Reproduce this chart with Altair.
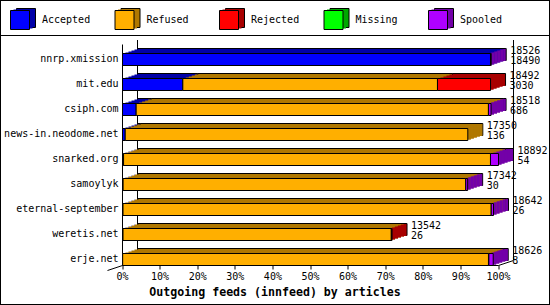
import altair as alt
import pandas as pd

feeds = ["nnrp.xmission", "mit.edu", "csiph.com", "news-in.neodome.net", "snarked.org",
         "samoylyk", "eternal-september", "weretis.net", "erje.net"]
offered = [18526, 18492, 18518, 17350, 18892, 17342, 18642, 13542, 18626]
accepted = [18490, 3030, 686, 136, 54, 30, 26, 26, 8]
refused = [0, 12796, 17700, 17214, 18435, 17215, 18500, 13480, 18380]
rejected = [0, 2666, 0, 0, 0, 0, 0, 36, 20]
missing = [0, 0, 0, 0, 0, 0, 0, 0, 0]
spooled = [36, 0, 132, 0, 403, 97, 116, 0, 218]

statuses = ["Accepted", "Refused", "Rejected", "Missing", "Spooled"]
front_colors = ["#0000FF", "#FFAF00", "#FF0000", "#00FF00", "#AF00FF"]
dark_colors = ["#0000A8", "#B07800", "#A80000", "#00A800", "#7300A8"]
ticks = [0, 0.1, 0.2, 0.3, 0.4, 0.5, 0.6, 0.7, 0.8, 0.9, 1.0]
x_title = "Outgoing feeds (innfeed) by articles"

MONO = "DejaVu Sans Mono"
series = [accepted, refused, rejected, missing, spooled]
maxv = max(offered)

rows = []
caps = []
for i, f in enumerate(feeds):
    cum = 0
    last = None
    for j, s in enumerate(statuses):
        v = series[j][i]
        if v > 0:
            rows.append({"feed": f, "status": s, "start": cum / maxv, "end": (cum + v) / maxv,
                         "front": front_colors[j], "dark": dark_colors[j]})
            last = j
        cum += v
    caps.append({"feed": f, "end": cum / maxv, "dark": dark_colors[last]})
df = pd.DataFrame(rows)
cdf = pd.DataFrame(caps)

lab = pd.DataFrame({"feed": feeds, "frac": [o / maxv for o in offered],
                    "top": [str(o) for o in offered], "bottom": [str(a) for a in accepted]})
leg = pd.DataFrame({"status": statuses, "front": front_colors, "dark": dark_colors})
walls = pd.DataFrame({"pos": [0.0, 1.0]})

xscale = alt.Scale(domain=[0, 1], range=[122.5, 498.5], nice=False, zero=False)
yscale = alt.Scale(type="band", domain=feeds, range=[44.5, 265.5], paddingInner=0.52,
                   paddingOuter=0.18, align=1)

def Y(axis=None):
    return alt.Y("feed:N", sort=feeds, scale=yscale, axis=axis)

xaxis = alt.Axis(values=ticks, format=".0%", offset=-39.5, translate=0, grid=False,
                 domainColor="black", tickColor="black", tickSize=4, labelFont=MONO,
                 labelFontSize=10, labelColor="black", labelPadding=2, labelFlush=False,
                 labelOverlap=False, title=x_title, titleFont=MONO, titleFontSize=11.6,
                 titleFontWeight="bold", titleColor="black", titleX=275, titleY=27,
                 titleBaseline="middle", titleAlign="center")
yaxis = alt.Axis(offset=-122.5, translate=0, ticks=False, grid=False, domainColor="black",
                 labelFont=MONO, labelFontSize=10, labelColor="black", labelPadding=4, title=None)

# back wall lines
wall = alt.Chart(walls).mark_rule(color="black", strokeWidth=1, xOffset=15).encode(
    x=alt.X("pos:Q", scale=xscale, axis=None), y=alt.value(40), y2=alt.value(260))

diag_r = alt.Chart(walls).transform_filter("datum.pos == 1").mark_rule(
    color="black", strokeWidth=1, xOffset=0, x2Offset=15).encode(
    x=alt.X("pos:Q", scale=xscale, axis=None), x2="pos:Q", y=alt.value(265.5), y2=alt.value(260.5))
diag_l = alt.Chart(walls).transform_filter("datum.pos == 0").mark_rule(
    color="black", strokeWidth=1, xOffset=-15, x2Offset=0).encode(
    x=alt.X("pos:Q", scale=xscale, axis=None), x2="pos:Q", y=alt.value(270.5), y2=alt.value(265.5))

def ext(k, stroke):
    kw = dict(xOffset=3 * k, x2Offset=3 * k, yOffset=-k, y2Offset=-k)
    if stroke:
        kw.update(stroke="black", strokeWidth=1)
    else:
        kw.update(strokeWidth=0)
    return alt.Chart(df).mark_bar(**kw).encode(
        x=alt.X("start:Q", scale=xscale, axis=None), x2="end:Q", y=Y(),
        color=alt.Color("dark:N", scale=None))

def cap(k):
    inset = 0.5 if k == 5 else 0
    return alt.Chart(cdf).mark_bar(strokeWidth=0, xOffset=3 * (k - 1), x2Offset=3 * k - inset,
                                   yOffset=-k + inset, y2Offset=-k + inset).encode(
        x=alt.X("end:Q", scale=xscale, axis=None), x2="end:Q", y=Y(),
        color=alt.Color("dark:N", scale=None))

layers = [wall, diag_r, diag_l, ext(5, True), ext(4, False), ext(3, False), ext(2, False),
          ext(1, False), cap(1), cap(2), cap(3), cap(4), cap(5)]

front = alt.Chart(df).mark_bar(stroke="black", strokeWidth=1).encode(
    x=alt.X("start:Q", scale=xscale, axis=xaxis), x2="end:Q", y=Y(yaxis),
    color=alt.Color("front:N", scale=None))
layers.append(front)

for field, dy in [("top", -9), ("bottom", 1.5)]:
    layers.append(alt.Chart(lab).mark_text(align="left", baseline="middle", dx=19, dy=dy,
                                           font=MONO, fontSize=10, color="black").encode(
        x=alt.X("frac:Q", scale=xscale, axis=None), y=Y(), text=f"{field}:N"))

legx = alt.X("status:N", sort=statuses, axis=None,
             scale=alt.Scale(type="point", domain=statuses, range=[20, 438], padding=0))
layers.append(alt.Chart(leg).mark_square(size=361, opacity=1, stroke="black", strokeWidth=1,
                                          xOffset=6, yOffset=-2).encode(
    x=legx, y=alt.value(20), color=alt.Color("dark:N", scale=None)))
layers.append(alt.Chart(leg).mark_square(size=361, opacity=1, strokeWidth=0,
                                          xOffset=3, yOffset=-1).encode(
    x=legx, y=alt.value(20), color=alt.Color("dark:N", scale=None)))
layers.append(alt.Chart(leg).mark_square(size=361, opacity=1, stroke="black", strokeWidth=1).encode(
    x=legx, y=alt.value(20), color=alt.Color("front:N", scale=None)))
layers.append(alt.Chart(leg).mark_text(align="left", baseline="middle", dx=22, font=MONO,
                                        fontSize=10, color="black").encode(
    x=legx, y=alt.value(20), text="status:N"))
layers.append(alt.Chart(walls).transform_filter("datum.pos == 0").mark_rule(
    color="black", strokeWidth=1).encode(x=alt.value(0), x2=alt.value(550), y=alt.value(35.5)))

chart = alt.layer(*layers).resolve_scale(x="independent", y="independent").properties(
    width=550, height=305, autosize=alt.AutoSizeParams(type="none"), padding=0,
    background="white").configure_view(stroke="black", strokeWidth=2)

chart.save("out.html", embed_options={"renderer": "svg", "actions": False})
